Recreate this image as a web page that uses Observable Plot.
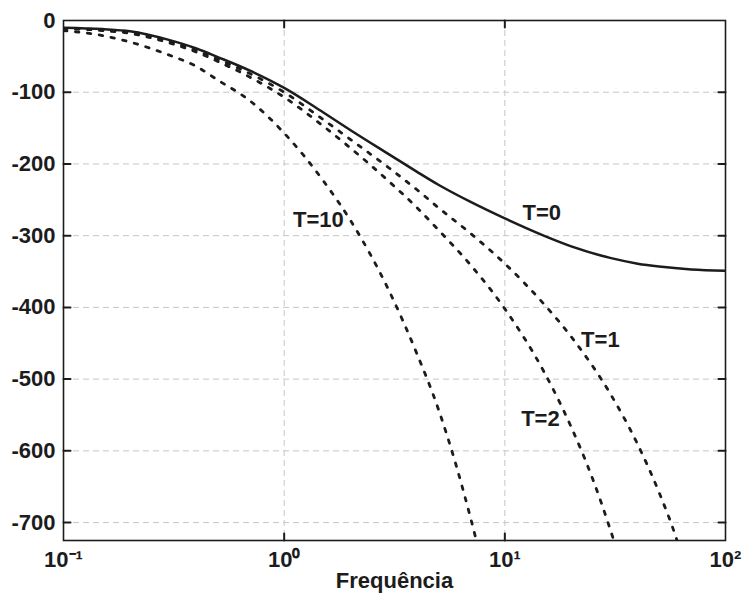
<!DOCTYPE html>
<html><head><meta charset="utf-8">
<script src="https://cdn.jsdelivr.net/npm/d3@7"></script>
<script src="https://cdn.jsdelivr.net/npm/@observablehq/plot@0.6"></script>
<style>body{margin:0;background:#fff}</style>
</head><body><div id="chart"></div>
<script>
// Phase curves
const freqT0 = [0.1,0.15,0.2,0.3,0.4,0.5,0.7,1,1.5,2,3,4,5,7,10,15,20,30,40,50,70,100];
const phaseT0 = [-10,-12,-15,-27,-39,-51,-70,-94,-128,-153,-187,-211,-229,-253,-276,-300,-315,-331,-339,-343,-347,-349];
const freqT1 = [0.1,0.15,0.2,0.3,0.4,0.5,0.7,1,1.5,2,3,4,5,7,10,15,20,30,40,50,60,62];
const phaseT1 = [-11,-13,-16,-29,-42,-54,-74,-100,-138,-166,-206,-236,-261,-297,-339,-395,-441,-520,-591,-658,-723,-737];
const freqT2 = [0.1,0.15,0.2,0.3,0.4,0.5,0.7,1,1.5,2,3,4,5,7,10,15,20,25,30,32];
const phaseT2 = [-11,-14,-18,-31,-44,-57,-79,-107,-147,-178,-225,-261,-292,-341,-402,-489,-567,-639,-709,-736];
const freqT10 = [0.1,0.15,0.2,0.3,0.4,0.5,0.7,1,1.5,2,3,4,5,6,7,7.5];
const phaseT10 = [-14,-21,-30,-48,-64,-83,-112,-157,-223,-279,-378,-465,-542,-619,-694,-730];

const yTicks = [0,-100,-200,-300,-400,-500,-600,-700];
const yTickLabels = ["0","-100","-200","-300","-400","-500","-600","-700"];
const xTicks = [0.1,1,10,100];
const xTickLabels = ["10\u207B\u00B9","10\u2070","10\u00B9","10\u00B2"];
const xLabel = "Frequência";

const curveNames = ["T=0","T=1","T=2","T=10"];
const curveLabelFreq = [14.7,27.1,14.5,1.43];
const curveLabelPhase = [-269,-445,-555,-278];

const solid = freqT0.map((f,i)=>({f, p: phaseT0[i]}));
const dotted = [];
[[freqT1,phaseT1,"T=1"],[freqT2,phaseT2,"T=2"],[freqT10,phaseT10,"T=10"]].forEach(([fs,ps,n])=>{
  fs.forEach((f,i)=>dotted.push({f, p: ps[i], T: n}));
});
const labels = curveNames.map((t,i)=>({t, f: curveLabelFreq[i], p: curveLabelPhase[i]}));

const ink = "#1c1c1c";
const grid = {stroke:"#c6c6c6", strokeWidth:1, strokeDasharray:"6,4"};
const stem = {draw(context, l) { context.moveTo(0, 0); context.lineTo(0, -l); }};
const tickStyle = {length: 7, anchor: "start", shape: stem, stroke: ink, strokeWidth: 2};
const font = {fontSize: 22, fontWeight: "bold", fill: ink};

const chart = Plot.plot({
  width: 742, height: 596,
  marginLeft: 63, marginRight: 17, marginTop: 20, marginBottom: 56,
  x: {type: "log", domain: [0.1, 100]},
  y: {domain: [-725, 0]},
  style: {fontFamily: "'Liberation Sans', Arial, sans-serif", fontWeight: "bold", fontSize: "22px", color: ink, background: "#fff", overflow: "visible"},
  marks: [
    Plot.ruleY(yTicks.slice(1), grid),
    Plot.ruleX(xTicks.slice(1,3), grid),
    Plot.line(solid, {x: "f", y: "p", stroke: ink, strokeWidth: 2.5, curve: "monotone-x", clip: true}),
    Plot.line(dotted, {x: "f", y: "p", z: "T", stroke: ink, strokeWidth: 2.8, strokeDasharray: "3.5,8.5", curve: "monotone-x", clip: true}),
    Plot.vector(yTicks.slice(1), {y: d => d, frameAnchor: "left", rotate: 90, ...tickStyle}),
    Plot.vector(yTicks.slice(1), {y: d => d, frameAnchor: "right", rotate: -90, ...tickStyle}),
    Plot.vector(xTicks.slice(1,3), {x: d => d, frameAnchor: "bottom", rotate: 0, ...tickStyle}),
    Plot.vector(xTicks.slice(1,3), {x: d => d, frameAnchor: "top", rotate: 180, ...tickStyle}),
    Plot.axisY({anchor: "left", ticks: yTicks, tickSize: 0, tickPadding: 8, tickFormat: d => yTickLabels[yTicks.indexOf(d)], ...font, label: null}),
    Plot.axisX({anchor: "bottom", ticks: xTicks, tickSize: 0, tickPadding: 11, tickFormat: d => xTickLabels[xTicks.indexOf(d)], ...font, label: null}),
    Plot.frame({stroke: ink, strokeWidth: 1.6}),
    Plot.text(labels, {x: "f", y: "p", text: "t", ...font}),
    Plot.text([xLabel], {frameAnchor: "bottom", dy: 32, lineAnchor: "top", ...font})
  ]
});
document.getElementById("chart").appendChild(chart);
</script>
</body></html>
